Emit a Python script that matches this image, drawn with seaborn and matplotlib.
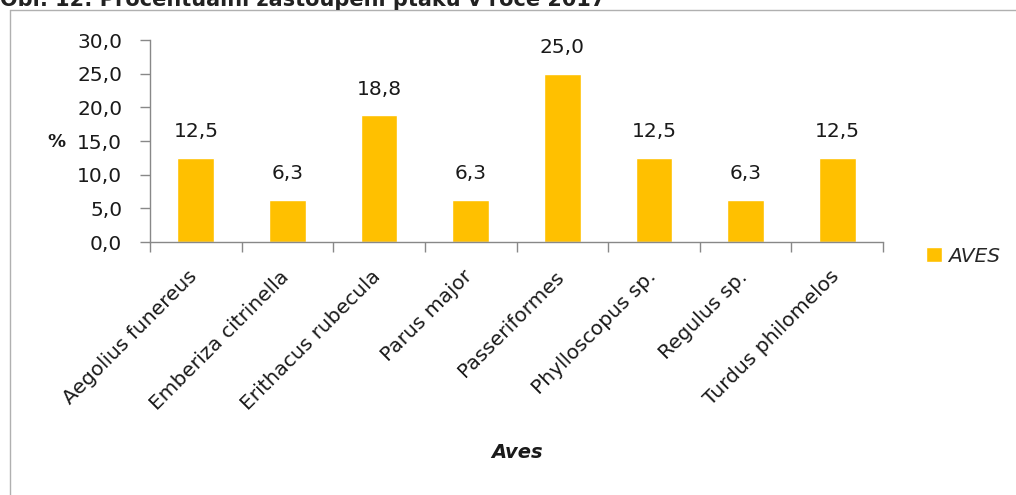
import matplotlib
matplotlib.use("Agg")
import matplotlib.pyplot as plt
from matplotlib.lines import Line2D
from matplotlib.ticker import FixedLocator, FuncFormatter
from matplotlib.transforms import ScaledTranslation
import seaborn as sns
import pandas as pd

# Data
species = [
    "Aegolius funereus",
    "Emberiza citrinella",
    "Erithacus rubecula",
    "Parus major",
    "Passeriformes",
    "Phylloscopus sp.",
    "Regulus sp.",
    "Turdus philomelos",
]
share = [12.5, 6.3, 18.8, 6.3, 25.0, 12.5, 6.3, 12.5]
y_ticks = [0, 5, 10, 15, 20, 25, 30]
series_name = "AVES"
caption = "Obr. 12: Procentuální zastoupení ptáků v roce 2017"

sns.set_theme(style="white")
plt.rcParams["font.family"] = ["DejaVu Sans"]

FS = 14.5
TXT = "#1a1a1a"
W, H = 1016, 495
fig = plt.figure(figsize=(W / 100, H / 100), dpi=100)
ax = fig.add_axes([150 / W, 1 - 242 / H, (883 - 150) / W, (242 - 40) / H])

df = pd.DataFrame({"species": species, "share": share})
sns.barplot(data=df, x="species", y="share", color="#FFC000", saturation=1,
            width=0.4, ax=ax, label=series_name)

# value labels
labels = [f"{v:.1f}".replace(".", ",") for v in share]
ax.bar_label(ax.containers[0], labels=labels, padding=12, fontsize=FS, color=TXT)

axis_grey = "#888888"
ax.set_xlim(-0.5, len(species) - 0.5)
ax.set_ylim(0, 30)
ax.set_yticks(y_ticks)
ax.yaxis.set_major_formatter(FuncFormatter(lambda v, _: f"{v:.1f}".replace(".", ",")))
ax.tick_params(axis="y", which="major", direction="out", length=7, width=1,
               color=axis_grey, labelsize=FS, labelcolor=TXT, pad=13, left=True)

# category labels at centers, tick marks at category boundaries
ax.set_xticks(range(len(species)))
ax.set_xticklabels(species, rotation=45, ha="right", va="top",
                   rotation_mode="anchor", fontsize=FS, color=TXT)
ax.tick_params(axis="x", which="major", length=0, pad=18)
shift = ScaledTranslation(-8 / 100, 0, fig.dpi_scale_trans)
for lbl in ax.get_xticklabels():
    lbl.set_transform(lbl.get_transform() + shift)
ax.xaxis.set_minor_locator(FixedLocator([i - 0.5 for i in range(len(species) + 1)]))
ax.tick_params(axis="x", which="minor", direction="out", length=7, width=1,
               color=axis_grey, bottom=True)

for s in ("top", "right"):
    ax.spines[s].set_visible(False)
for s in ("left", "bottom"):
    ax.spines[s].set_color(axis_grey)
    ax.spines[s].set_linewidth(1)
ax.set_xlabel("")
ax.set_ylabel("")

fig.text(56 / W, 1 - 142 / H, "%", fontsize=13, fontweight="bold",
         ha="center", va="center", color=TXT)
fig.text(517 / W, 1 - 453 / H, "Aves", fontsize=14, fontweight="bold",
         style="italic", ha="center", va="center", color=TXT)

ax.legend(loc="center left", bbox_to_anchor=(926 / W, 1 - 256 / H),
          bbox_transform=fig.transFigure, frameon=False,
          prop={"style": "italic", "size": FS}, handlelength=0.8,
          handleheight=0.8, handletextpad=0.3, borderaxespad=0,
          borderpad=0)

# outer chart frame
frame_grey = "#b0b0b0"
fig.add_artist(Line2D([10 / W, 10 / W], [0, 1 - 10 / H], transform=fig.transFigure,
                      color=frame_grey, lw=1))
fig.add_artist(Line2D([10 / W, 1], [1 - 10 / H, 1 - 10 / H], transform=fig.transFigure,
                      color=frame_grey, lw=1))

# caption above the chart, sized to span to x = 608 px
cap = fig.text(0.0, 1 - 6 / H, caption, fontsize=16, fontweight="bold",
               ha="left", va="baseline", color="#222222")
renderer = fig.canvas.get_renderer()
w = cap.get_window_extent(renderer).width
cap.set_fontsize(16 * 608 / w)

fig.savefig("out.png", dpi=100)
